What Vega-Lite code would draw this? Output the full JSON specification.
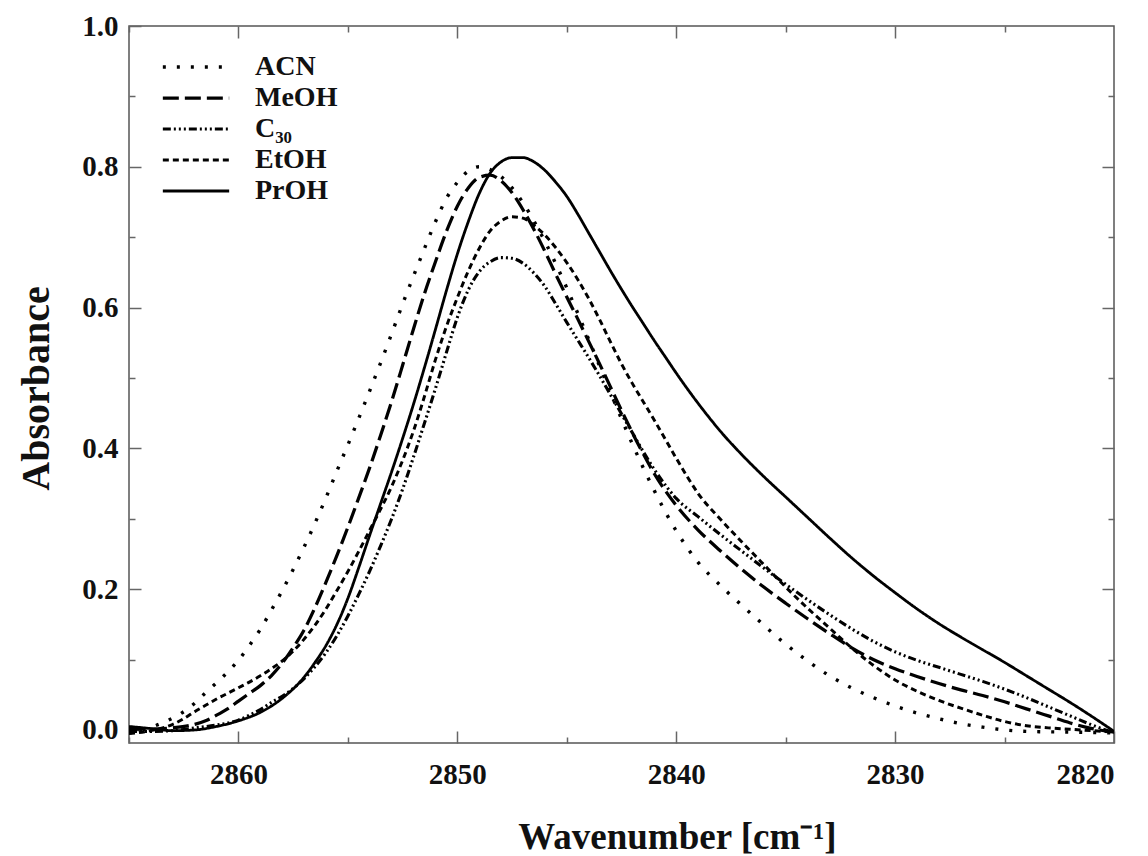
{
  "$schema": "https://vega.github.io/schema/vega-lite/v6.json",
  "width": 985,
  "height": 717,
  "autosize": {"type": "none"},
  "padding": {"left": 129, "top": 26, "right": 34, "bottom": 113},
  "background": "white",
  "config": {
    "view": {"stroke": "#555", "strokeWidth": 1.5},
    "axis": {
      "labelFont": "Liberation Serif", "labelFontWeight": "bold", "labelFontSize": 29, "labelColor": "#111",
      "titleFont": "Liberation Serif", "titleFontWeight": "bold", "titleColor": "#111",
      "grid": false, "domain": false, "tickColor": "#666", "tickWidth": 1.5
    }
  },
  "data": {"values": [
    {"s":"ACN","w":2865.0,"a":-0.004},{"s":"ACN","w":2864.7,"a":-0.003},{"s":"ACN","w":2864.2,"a":0.002},{"s":"ACN","w":2863.8,"a":0.006},{"s":"ACN","w":2863.2,"a":0.014},{"s":"ACN","w":2862.6,"a":0.024},{"s":"ACN","w":2862.0,"a":0.038},{"s":"ACN","w":2861.5,"a":0.053},{"s":"ACN","w":2861.0,"a":0.067},{"s":"ACN","w":2860.5,"a":0.082},{"s":"ACN","w":2860.0,"a":0.099},{"s":"ACN","w":2859.5,"a":0.120},{"s":"ACN","w":2859.0,"a":0.143},{"s":"ACN","w":2858.5,"a":0.170},{"s":"ACN","w":2858.0,"a":0.198},{"s":"ACN","w":2857.5,"a":0.228},{"s":"ACN","w":2857.0,"a":0.260},{"s":"ACN","w":2856.5,"a":0.294},{"s":"ACN","w":2856.0,"a":0.330},{"s":"ACN","w":2855.5,"a":0.368},{"s":"ACN","w":2855.0,"a":0.405},{"s":"ACN","w":2854.5,"a":0.443},{"s":"ACN","w":2854.0,"a":0.482},{"s":"ACN","w":2853.5,"a":0.522},{"s":"ACN","w":2853.0,"a":0.563},{"s":"ACN","w":2852.5,"a":0.605},{"s":"ACN","w":2852.0,"a":0.645},{"s":"ACN","w":2851.5,"a":0.684},{"s":"ACN","w":2851.0,"a":0.722},{"s":"ACN","w":2850.5,"a":0.755},{"s":"ACN","w":2850.0,"a":0.778},{"s":"ACN","w":2849.5,"a":0.794},{"s":"ACN","w":2849.0,"a":0.800},{"s":"ACN","w":2848.5,"a":0.796},{"s":"ACN","w":2848.0,"a":0.786},{"s":"ACN","w":2847.5,"a":0.770},{"s":"ACN","w":2847.0,"a":0.749},{"s":"ACN","w":2846.5,"a":0.723},{"s":"ACN","w":2846.0,"a":0.694},{"s":"ACN","w":2845.5,"a":0.662},{"s":"ACN","w":2845.0,"a":0.628},{"s":"ACN","w":2844.5,"a":0.592},{"s":"ACN","w":2844.0,"a":0.555},{"s":"ACN","w":2843.5,"a":0.517},{"s":"ACN","w":2843.0,"a":0.479},{"s":"ACN","w":2842.5,"a":0.442},{"s":"ACN","w":2842.0,"a":0.406},{"s":"ACN","w":2841.5,"a":0.372},{"s":"ACN","w":2841.0,"a":0.340},{"s":"ACN","w":2840.5,"a":0.310},{"s":"ACN","w":2840.0,"a":0.283},{"s":"ACN","w":2839.5,"a":0.259},{"s":"ACN","w":2839.0,"a":0.238},{"s":"ACN","w":2838.5,"a":0.221},{"s":"ACN","w":2838.0,"a":0.206},{"s":"ACN","w":2837.5,"a":0.191},{"s":"ACN","w":2837.0,"a":0.177},{"s":"ACN","w":2836.5,"a":0.163},{"s":"ACN","w":2836.0,"a":0.149},{"s":"ACN","w":2835.5,"a":0.135},{"s":"ACN","w":2835.0,"a":0.122},{"s":"ACN","w":2834.0,"a":0.098},{"s":"ACN","w":2833.0,"a":0.077},{"s":"ACN","w":2832.0,"a":0.060},{"s":"ACN","w":2831.0,"a":0.046},{"s":"ACN","w":2830.0,"a":0.034},{"s":"ACN","w":2829.0,"a":0.024},{"s":"ACN","w":2828.0,"a":0.016},{"s":"ACN","w":2827.0,"a":0.009},{"s":"ACN","w":2826.0,"a":0.004},{"s":"ACN","w":2825.0,"a":0.000},{"s":"ACN","w":2824.0,"a":-0.002},{"s":"ACN","w":2822.0,"a":-0.003},{"s":"ACN","w":2820.0,"a":-0.004},

    {"s":"MeOH","w":2865.0,"a":0.002},{"s":"MeOH","w":2864.0,"a":0.001},{"s":"MeOH","w":2863.0,"a":0.003},{"s":"MeOH","w":2862.0,"a":0.008},{"s":"MeOH","w":2861.5,"a":0.013},{"s":"MeOH","w":2861.0,"a":0.021},{"s":"MeOH","w":2860.5,"a":0.030},{"s":"MeOH","w":2860.0,"a":0.041},{"s":"MeOH","w":2859.5,"a":0.052},{"s":"MeOH","w":2859.0,"a":0.063},{"s":"MeOH","w":2858.5,"a":0.077},{"s":"MeOH","w":2858.0,"a":0.095},{"s":"MeOH","w":2857.5,"a":0.117},{"s":"MeOH","w":2857.0,"a":0.142},{"s":"MeOH","w":2856.5,"a":0.174},{"s":"MeOH","w":2856.0,"a":0.210},{"s":"MeOH","w":2855.5,"a":0.248},{"s":"MeOH","w":2855.0,"a":0.288},{"s":"MeOH","w":2854.5,"a":0.330},{"s":"MeOH","w":2854.0,"a":0.373},{"s":"MeOH","w":2853.5,"a":0.419},{"s":"MeOH","w":2853.0,"a":0.467},{"s":"MeOH","w":2852.5,"a":0.518},{"s":"MeOH","w":2852.0,"a":0.570},{"s":"MeOH","w":2851.5,"a":0.620},{"s":"MeOH","w":2851.0,"a":0.665},{"s":"MeOH","w":2850.5,"a":0.708},{"s":"MeOH","w":2850.0,"a":0.744},{"s":"MeOH","w":2849.5,"a":0.770},{"s":"MeOH","w":2849.0,"a":0.785},{"s":"MeOH","w":2848.5,"a":0.788},{"s":"MeOH","w":2848.0,"a":0.780},{"s":"MeOH","w":2847.5,"a":0.763},{"s":"MeOH","w":2847.0,"a":0.739},{"s":"MeOH","w":2846.5,"a":0.711},{"s":"MeOH","w":2846.0,"a":0.680},{"s":"MeOH","w":2845.5,"a":0.647},{"s":"MeOH","w":2845.0,"a":0.615},{"s":"MeOH","w":2844.5,"a":0.584},{"s":"MeOH","w":2844.0,"a":0.552},{"s":"MeOH","w":2843.5,"a":0.520},{"s":"MeOH","w":2843.0,"a":0.487},{"s":"MeOH","w":2842.5,"a":0.454},{"s":"MeOH","w":2842.0,"a":0.422},{"s":"MeOH","w":2841.5,"a":0.392},{"s":"MeOH","w":2841.0,"a":0.364},{"s":"MeOH","w":2840.0,"a":0.319},{"s":"MeOH","w":2839.0,"a":0.284},{"s":"MeOH","w":2838.0,"a":0.255},{"s":"MeOH","w":2837.0,"a":0.228},{"s":"MeOH","w":2836.0,"a":0.203},{"s":"MeOH","w":2835.0,"a":0.180},{"s":"MeOH","w":2834.0,"a":0.158},{"s":"MeOH","w":2833.0,"a":0.137},{"s":"MeOH","w":2832.0,"a":0.117},{"s":"MeOH","w":2831.0,"a":0.100},{"s":"MeOH","w":2830.0,"a":0.087},{"s":"MeOH","w":2829.0,"a":0.076},{"s":"MeOH","w":2828.0,"a":0.066},{"s":"MeOH","w":2827.0,"a":0.057},{"s":"MeOH","w":2826.0,"a":0.049},{"s":"MeOH","w":2825.0,"a":0.040},{"s":"MeOH","w":2824.0,"a":0.030},{"s":"MeOH","w":2823.0,"a":0.020},{"s":"MeOH","w":2822.0,"a":0.010},{"s":"MeOH","w":2821.0,"a":0.002},{"s":"MeOH","w":2820.0,"a":-0.003},

    {"s":"C30","w":2865.0,"a":-0.002},{"s":"C30","w":2864.0,"a":-0.002},{"s":"C30","w":2863.0,"a":-0.001},{"s":"C30","w":2862.0,"a":0.003},{"s":"C30","w":2861.0,"a":0.007},{"s":"C30","w":2860.0,"a":0.014},{"s":"C30","w":2859.5,"a":0.021},{"s":"C30","w":2859.0,"a":0.029},{"s":"C30","w":2858.5,"a":0.039},{"s":"C30","w":2858.0,"a":0.048},{"s":"C30","w":2857.5,"a":0.059},{"s":"C30","w":2857.0,"a":0.073},{"s":"C30","w":2856.5,"a":0.090},{"s":"C30","w":2856.0,"a":0.110},{"s":"C30","w":2855.5,"a":0.134},{"s":"C30","w":2855.0,"a":0.162},{"s":"C30","w":2854.5,"a":0.193},{"s":"C30","w":2854.0,"a":0.226},{"s":"C30","w":2853.5,"a":0.262},{"s":"C30","w":2853.0,"a":0.300},{"s":"C30","w":2852.5,"a":0.342},{"s":"C30","w":2852.0,"a":0.388},{"s":"C30","w":2851.5,"a":0.436},{"s":"C30","w":2851.0,"a":0.485},{"s":"C30","w":2850.5,"a":0.536},{"s":"C30","w":2850.0,"a":0.586},{"s":"C30","w":2849.5,"a":0.625},{"s":"C30","w":2849.0,"a":0.651},{"s":"C30","w":2848.5,"a":0.665},{"s":"C30","w":2848.0,"a":0.671},{"s":"C30","w":2847.5,"a":0.670},{"s":"C30","w":2847.0,"a":0.663},{"s":"C30","w":2846.5,"a":0.649},{"s":"C30","w":2846.0,"a":0.630},{"s":"C30","w":2845.5,"a":0.605},{"s":"C30","w":2845.0,"a":0.579},{"s":"C30","w":2844.5,"a":0.554},{"s":"C30","w":2844.0,"a":0.529},{"s":"C30","w":2843.5,"a":0.503},{"s":"C30","w":2843.0,"a":0.476},{"s":"C30","w":2842.5,"a":0.449},{"s":"C30","w":2842.0,"a":0.422},{"s":"C30","w":2841.5,"a":0.395},{"s":"C30","w":2841.0,"a":0.370},{"s":"C30","w":2840.5,"a":0.348},{"s":"C30","w":2840.0,"a":0.329},{"s":"C30","w":2839.0,"a":0.303},{"s":"C30","w":2838.0,"a":0.278},{"s":"C30","w":2837.0,"a":0.254},{"s":"C30","w":2836.0,"a":0.230},{"s":"C30","w":2835.0,"a":0.207},{"s":"C30","w":2834.0,"a":0.185},{"s":"C30","w":2833.0,"a":0.164},{"s":"C30","w":2832.0,"a":0.144},{"s":"C30","w":2831.0,"a":0.126},{"s":"C30","w":2830.0,"a":0.111},{"s":"C30","w":2829.0,"a":0.099},{"s":"C30","w":2828.0,"a":0.089},{"s":"C30","w":2827.0,"a":0.079},{"s":"C30","w":2826.0,"a":0.069},{"s":"C30","w":2825.0,"a":0.058},{"s":"C30","w":2824.0,"a":0.046},{"s":"C30","w":2823.0,"a":0.033},{"s":"C30","w":2822.0,"a":0.020},{"s":"C30","w":2821.0,"a":0.007},{"s":"C30","w":2820.0,"a":-0.004},

    {"s":"EtOH","w":2865.0,"a":-0.005},{"s":"EtOH","w":2864.0,"a":-0.001},{"s":"EtOH","w":2863.0,"a":0.008},{"s":"EtOH","w":2862.5,"a":0.016},{"s":"EtOH","w":2862.0,"a":0.026},{"s":"EtOH","w":2861.5,"a":0.035},{"s":"EtOH","w":2861.0,"a":0.044},{"s":"EtOH","w":2860.5,"a":0.052},{"s":"EtOH","w":2860.0,"a":0.060},{"s":"EtOH","w":2859.5,"a":0.068},{"s":"EtOH","w":2859.0,"a":0.077},{"s":"EtOH","w":2858.5,"a":0.087},{"s":"EtOH","w":2858.0,"a":0.098},{"s":"EtOH","w":2857.5,"a":0.112},{"s":"EtOH","w":2857.0,"a":0.129},{"s":"EtOH","w":2856.5,"a":0.149},{"s":"EtOH","w":2856.0,"a":0.172},{"s":"EtOH","w":2855.5,"a":0.198},{"s":"EtOH","w":2855.0,"a":0.225},{"s":"EtOH","w":2854.5,"a":0.254},{"s":"EtOH","w":2854.0,"a":0.284},{"s":"EtOH","w":2853.5,"a":0.314},{"s":"EtOH","w":2853.0,"a":0.346},{"s":"EtOH","w":2852.5,"a":0.383},{"s":"EtOH","w":2852.0,"a":0.425},{"s":"EtOH","w":2851.5,"a":0.474},{"s":"EtOH","w":2851.0,"a":0.526},{"s":"EtOH","w":2850.5,"a":0.573},{"s":"EtOH","w":2850.0,"a":0.614},{"s":"EtOH","w":2849.5,"a":0.652},{"s":"EtOH","w":2849.0,"a":0.684},{"s":"EtOH","w":2848.5,"a":0.709},{"s":"EtOH","w":2848.0,"a":0.723},{"s":"EtOH","w":2847.5,"a":0.729},{"s":"EtOH","w":2847.0,"a":0.727},{"s":"EtOH","w":2846.5,"a":0.717},{"s":"EtOH","w":2846.0,"a":0.703},{"s":"EtOH","w":2845.5,"a":0.685},{"s":"EtOH","w":2845.0,"a":0.664},{"s":"EtOH","w":2844.5,"a":0.640},{"s":"EtOH","w":2844.0,"a":0.613},{"s":"EtOH","w":2843.5,"a":0.583},{"s":"EtOH","w":2843.0,"a":0.551},{"s":"EtOH","w":2842.5,"a":0.520},{"s":"EtOH","w":2842.0,"a":0.492},{"s":"EtOH","w":2841.5,"a":0.466},{"s":"EtOH","w":2841.0,"a":0.440},{"s":"EtOH","w":2840.5,"a":0.413},{"s":"EtOH","w":2840.0,"a":0.386},{"s":"EtOH","w":2839.5,"a":0.360},{"s":"EtOH","w":2839.0,"a":0.336},{"s":"EtOH","w":2838.0,"a":0.300},{"s":"EtOH","w":2837.0,"a":0.267},{"s":"EtOH","w":2836.0,"a":0.235},{"s":"EtOH","w":2835.0,"a":0.203},{"s":"EtOH","w":2834.0,"a":0.173},{"s":"EtOH","w":2833.0,"a":0.145},{"s":"EtOH","w":2832.0,"a":0.117},{"s":"EtOH","w":2831.0,"a":0.092},{"s":"EtOH","w":2830.0,"a":0.071},{"s":"EtOH","w":2829.0,"a":0.055},{"s":"EtOH","w":2828.0,"a":0.042},{"s":"EtOH","w":2827.0,"a":0.031},{"s":"EtOH","w":2826.0,"a":0.021},{"s":"EtOH","w":2825.0,"a":0.012},{"s":"EtOH","w":2824.0,"a":0.006},{"s":"EtOH","w":2823.0,"a":0.003},{"s":"EtOH","w":2822.0,"a":0.001},{"s":"EtOH","w":2821.0,"a":-0.001},{"s":"EtOH","w":2820.0,"a":-0.003},

    {"s":"PrOH","w":2865.0,"a":0.005},{"s":"PrOH","w":2864.0,"a":0.002},{"s":"PrOH","w":2863.0,"a":-0.001},{"s":"PrOH","w":2862.0,"a":0.000},{"s":"PrOH","w":2861.0,"a":0.005},{"s":"PrOH","w":2860.0,"a":0.013},{"s":"PrOH","w":2859.0,"a":0.025},{"s":"PrOH","w":2858.0,"a":0.045},{"s":"PrOH","w":2857.0,"a":0.075},{"s":"PrOH","w":2856.5,"a":0.096},{"s":"PrOH","w":2856.0,"a":0.120},{"s":"PrOH","w":2855.5,"a":0.150},{"s":"PrOH","w":2855.0,"a":0.187},{"s":"PrOH","w":2854.5,"a":0.231},{"s":"PrOH","w":2854.0,"a":0.277},{"s":"PrOH","w":2853.5,"a":0.322},{"s":"PrOH","w":2853.0,"a":0.367},{"s":"PrOH","w":2852.5,"a":0.414},{"s":"PrOH","w":2852.0,"a":0.463},{"s":"PrOH","w":2851.5,"a":0.515},{"s":"PrOH","w":2851.0,"a":0.569},{"s":"PrOH","w":2850.5,"a":0.624},{"s":"PrOH","w":2850.0,"a":0.676},{"s":"PrOH","w":2849.5,"a":0.722},{"s":"PrOH","w":2849.0,"a":0.762},{"s":"PrOH","w":2848.5,"a":0.791},{"s":"PrOH","w":2848.0,"a":0.807},{"s":"PrOH","w":2847.5,"a":0.813},{"s":"PrOH","w":2847.0,"a":0.813},{"s":"PrOH","w":2846.5,"a":0.807},{"s":"PrOH","w":2846.0,"a":0.795},{"s":"PrOH","w":2845.5,"a":0.778},{"s":"PrOH","w":2845.0,"a":0.758},{"s":"PrOH","w":2844.5,"a":0.733},{"s":"PrOH","w":2844.0,"a":0.706},{"s":"PrOH","w":2843.5,"a":0.679},{"s":"PrOH","w":2843.0,"a":0.652},{"s":"PrOH","w":2842.5,"a":0.626},{"s":"PrOH","w":2842.0,"a":0.601},{"s":"PrOH","w":2841.5,"a":0.577},{"s":"PrOH","w":2841.0,"a":0.553},{"s":"PrOH","w":2840.5,"a":0.530},{"s":"PrOH","w":2840.0,"a":0.507},{"s":"PrOH","w":2839.5,"a":0.485},{"s":"PrOH","w":2839.0,"a":0.464},{"s":"PrOH","w":2838.5,"a":0.444},{"s":"PrOH","w":2838.0,"a":0.425},{"s":"PrOH","w":2837.0,"a":0.391},{"s":"PrOH","w":2836.0,"a":0.360},{"s":"PrOH","w":2835.0,"a":0.331},{"s":"PrOH","w":2834.0,"a":0.302},{"s":"PrOH","w":2833.0,"a":0.273},{"s":"PrOH","w":2832.0,"a":0.245},{"s":"PrOH","w":2831.0,"a":0.219},{"s":"PrOH","w":2830.0,"a":0.195},{"s":"PrOH","w":2829.0,"a":0.172},{"s":"PrOH","w":2828.0,"a":0.151},{"s":"PrOH","w":2827.0,"a":0.132},{"s":"PrOH","w":2826.0,"a":0.114},{"s":"PrOH","w":2825.0,"a":0.096},{"s":"PrOH","w":2824.0,"a":0.077},{"s":"PrOH","w":2823.0,"a":0.058},{"s":"PrOH","w":2822.0,"a":0.039},{"s":"PrOH","w":2821.0,"a":0.019},{"s":"PrOH","w":2820.0,"a":-0.002}
  ]},
  "layer": [
    {
      "mark": {"type": "line", "color": "black", "clip": true, "strokeCap": "butt", "interpolate": "monotone"},
      "encoding": {
        "x": {"field": "w", "type": "quantitative",
              "scale": {"domain": [2820, 2865], "reverse": true, "nice": false, "zero": false},
              "axis": {"orient": "bottom", "values": [2860, 2850, 2840, 2830, 2820], "format": "d", "tickSize": -12, "labelPadding": 29,
                       "title": "Wavenumber [cm⁻¹]", "titleFontSize": 37, "titleX": 548, "titleY": 105, "titleBaseline": "alphabetic", "titleAlign": "center"}},
        "y": {"field": "a", "type": "quantitative",
              "scale": {"domain": [-0.0185, 1.0], "nice": false, "zero": false},
              "axis": {"orient": "left", "values": [0, 0.2, 0.4, 0.6, 0.8, 1.0], "format": ".1f", "tickSize": -12, "labelPadding": 23,
                       "title": "Absorbance", "titleFontSize": 40, "titleX": -93, "titleY": 362, "titleBaseline": "middle", "titleAlign": "center", "titleAngle": -90}},
        "strokeDash": {"field": "s", "type": "nominal",
              "scale": {"domain": ["ACN", "MeOH", "C30", "EtOH", "PrOH"],
                        "range": [[3, 11], [16, 6], [8, 3, 2, 3, 2, 3, 2, 3], [6, 4], [1, 0]]},
              "legend": {"orient": "none", "legendX": 32, "legendY": 27, "title": null,
                         "symbolType": "stroke", "symbolSize": 4400, "symbolStrokeWidth": 3, "symbolStrokeColor": "black",
                         "clipHeight": 28, "rowPadding": 3,
                         "labelFont": "Liberation Serif", "labelFontWeight": "bold", "labelFontSize": 28, "labelColor": "#111",
                         "labelOffset": 24,
                         "labelExpr": "datum.label == 'C30' ? 'C₃₀' : datum.label"}},
        "strokeWidth": {"field": "s", "type": "nominal",
              "scale": {"domain": ["ACN", "MeOH", "C30", "EtOH", "PrOH"], "range": [3.4, 2.8, 2.6, 2.8, 2.6]},
              "legend": null}
      }
    },
    {
      "mark": {"type": "line", "opacity": 0},
      "encoding": {
        "x": {"field": "w", "type": "quantitative",
              "axis": {"orient": "bottom", "values": [2865, 2855, 2845, 2835, 2825], "labels": false, "tickSize": -6, "title": null}},
        "y": {"field": "a", "type": "quantitative",
              "axis": {"orient": "left", "values": [0.1, 0.3, 0.5, 0.7, 0.9], "labels": false, "tickSize": -6, "title": null}},
        "detail": {"field": "s"}
      }
    },
    {
      "mark": {"type": "line", "opacity": 0},
      "encoding": {
        "x": {"field": "w", "type": "quantitative",
              "axis": {"orient": "top", "values": [2860, 2850, 2840, 2830], "labels": false, "tickSize": -12, "title": null}},
        "y": {"field": "a", "type": "quantitative",
              "axis": {"orient": "right", "values": [0, 0.2, 0.4, 0.6, 0.8], "labels": false, "tickSize": -12, "title": null}},
        "detail": {"field": "s"}
      }
    },
    {
      "mark": {"type": "line", "opacity": 0},
      "encoding": {
        "x": {"field": "w", "type": "quantitative",
              "axis": {"orient": "top", "values": [2865, 2855, 2845, 2835, 2825], "labels": false, "tickSize": -6, "title": null}},
        "y": {"field": "a", "type": "quantitative",
              "axis": {"orient": "right", "values": [0.1, 0.3, 0.5, 0.7, 0.9], "labels": false, "tickSize": -6, "title": null}},
        "detail": {"field": "s"}
      }
    }
  ],
  "resolve": {"axis": {"x": "independent", "y": "independent"}}
}
